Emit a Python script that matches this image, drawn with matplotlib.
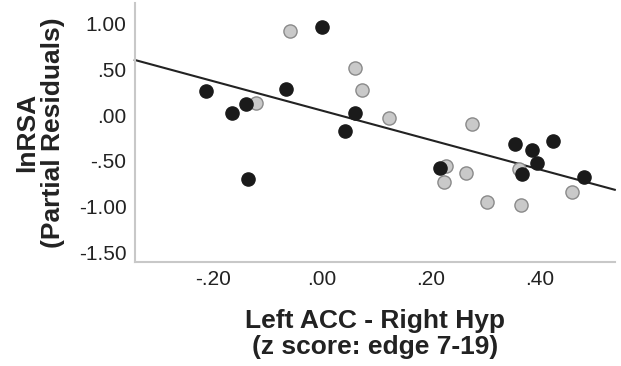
import numpy as np
import matplotlib
matplotlib.use('Agg')
import matplotlib.pyplot as plt

plt.rcParams['font.family'] = ['Liberation Sans', 'DejaVu Sans']

# black group
black_x = [-0.213, -0.166, -0.140, -0.066, 0.000, 0.061, 0.042, -0.136,
           0.355, 0.425, 0.386, 0.396, 0.217, 0.368, 0.482]
black_y = [0.26, 0.02, 0.12, 0.28, 0.96, 0.02, -0.17, -0.70,
           -0.32, -0.28, -0.38, -0.52, -0.58, -0.64, -0.67]

# gray group
gray_x = [-0.121, -0.059, 0.061, 0.074, 0.123, 0.276, 0.228, 0.265,
          0.224, 0.362, 0.460, 0.304, 0.366]
gray_y = [0.13, 0.91, 0.51, 0.27, -0.03, -0.10, -0.55, -0.63,
          -0.73, -0.59, -0.84, -0.95, -0.98]

# fit line
slope = -1.60
intercept = 0.049

x_ticks = [-0.2, 0.0, 0.2, 0.4]
x_labels = ['-.20', '.00', '.20', '.40']
y_ticks = [1.0, 0.5, 0.0, -0.5, -1.0, -1.5]
y_labels = ['1.00', '.50', '.00', '-.50', '-1.00', '-1.50']

fig = plt.figure(figsize=(6.21, 3.66), dpi=100)
ax = fig.add_axes([0.217, 0.284, 0.773, 0.708])

xlim = (-0.344, 0.539)
ax.set_xlim(*xlim)
ax.set_ylim(-1.60, 1.22)

xs = np.array(xlim)
ax.plot(xs, intercept + slope * xs, color='#222222', lw=1.5, zorder=2,
        clip_on=False)

ax.scatter(gray_x, gray_y, s=90, facecolor='#c9c9c9', edgecolor='#8a8a8a',
           linewidth=1.0, zorder=3)
ax.scatter(black_x, black_y, s=90, facecolor='#1a1a1a', edgecolor='#1a1a1a',
           linewidth=1.0, zorder=4)

ax.set_xticks(x_ticks)
ax.set_xticklabels(x_labels)
ax.set_yticks(y_ticks)
ax.set_yticklabels(y_labels)
ax.tick_params(length=0, labelsize=15, colors='#222222', pad=6)

for side in ['top', 'right']:
    ax.spines[side].set_visible(False)
for side in ['left', 'bottom']:
    ax.spines[side].set_color('#c8c8c8')
    ax.spines[side].set_linewidth(1.5)

ax.set_xlabel('Left ACC - Right Hyp\n(z score: edge 7-19)', fontsize=19,
              fontweight='bold', color='#222222', linespacing=1.1, labelpad=14)
ax.set_ylabel('lnRSA\n(Partial Residuals)', fontsize=19,
              fontweight='bold', color='#222222', linespacing=1.1, labelpad=10)

fig.savefig('out.png', dpi=100)
